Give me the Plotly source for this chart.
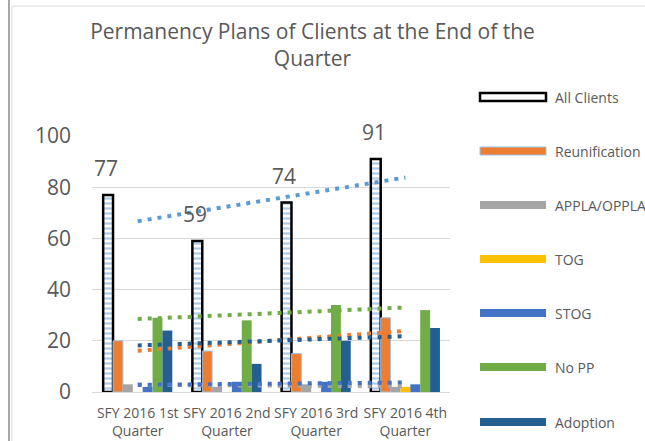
import numpy as np
import plotly.graph_objects as go

# ---------------- data ----------------
categories = ["SFY 2016 1st<br>Quarter", "SFY 2016 2nd<br>Quarter",
              "SFY 2016 3rd<br>Quarter", "SFY 2016 4th<br>Quarter"]
series_names = ["All Clients", "Reunification", "APPLA/OPPLA", "TOG", "STOG", "No PP", "Adoption"]
all_clients = [77, 59, 74, 91]
reunification = [20, 16, 15, 29]
appla_oppla = [3, 2, 3, 2]
tog = [0, 0, 0, 2]
stog = [2, 4, 4, 3]
no_pp = [29, 28, 34, 32]
adoption = [24, 11, 20, 25]
y_ticks = [0, 20, 40, 60, 80, 100]
title_text = "Permanency Plans of Clients at the End of the<br>Quarter"

values = [all_clients, reunification, appla_oppla, tog, stog, no_pp, adoption]
colors = ["#FFFFFF", "#ED7D31", "#A5A5A5", "#FFC000", "#4472C4", "#70AD47", "#255E91"]
trend_colors = {"All Clients": "#5B9BD5", "Reunification": "#ED7D31", "APPLA/OPPLA": "#A5A5A5",
                "STOG": "#4472C4", "No PP": "#70AD47", "Adoption": "#255E91"}

FONT = "Open Sans"
GREY = "#595959"
W, H = 645, 441
ML, MR, MT, MB = 92, 195, 136, 49
PW, PH = W - ML - MR, H - MT - MB
BARGAP = 0.225

def px2x(px):
    return (px - ML) / PW

def px2y(py):
    return (H - MB - py) / PH

fig = go.Figure()

for name, vals, col in zip(series_names, values, colors):
    if name == "All Clients":
        marker = dict(color="white", line=dict(color="black", width=2.5),
                      pattern=dict(shape="-", fgcolor="#5B9BD5", bgcolor="white",
                                   size=5, solidity=0.45))
    elif name == "Reunification":
        marker = dict(color=col, line=dict(color="#9DC3E6", width=1))
    else:
        marker = dict(color=col, line=dict(width=0))
    fig.add_trace(go.Bar(x=categories, y=vals, name=name, marker=marker, showlegend=False))

# linear trendlines (computed from the data)
xi = np.arange(1, len(categories) + 1)
for name, vals in zip(series_names, values):
    if name not in trend_colors:
        continue
    slope, intercept = np.polyfit(xi, np.array(vals, dtype=float), 1)
    fit = slope * xi + intercept
    fig.add_trace(go.Scatter(x=categories, y=fit, mode="lines", showlegend=False,
                             line=dict(color=trend_colors[name], width=4, dash="4px,6px"),
                             hoverinfo="skip"))

# data labels for All Clients
catw = PW / len(categories)
barw = catw * (1 - BARGAP) / len(series_names)
for c, v in zip(categories, all_clients):
    fig.add_annotation(x=c, y=v, text=str(v), showarrow=False, yanchor="bottom",
                       xshift=-3 * barw - 2, yshift=11,
                       font=dict(family=FONT, size=21, color=GREY))

# manual legend
leg_y = [97, 151, 205, 259, 313, 367, 422]
for name, col, ly in zip(series_names, colors, leg_y):
    if name == "All Clients":
        line = dict(color="black", width=2.5)
    elif name == "Reunification":
        line = dict(color="#9DC3E6", width=1)
    else:
        line = dict(width=0)
    fig.add_shape(type="rect", xref="paper", yref="paper",
                  x0=px2x(480), x1=px2x(546), y0=px2y(ly + 4), y1=px2y(ly - 4),
                  fillcolor=col, line=line)
    fig.add_annotation(xref="paper", yref="paper", x=px2x(553), y=px2y(ly), text=name,
                       showarrow=False, xanchor="left", yanchor="middle",
                       font=dict(family=FONT, size=14, color=GREY))

# chart border decorations
fig.add_shape(type="line", xref="paper", yref="paper", x0=px2x(9), x1=px2x(9),
              y0=px2y(0), y1=px2y(H), line=dict(color="#A6A6A6", width=2))
fig.add_shape(type="line", xref="paper", yref="paper", x0=px2x(12), x1=px2x(12),
              y0=px2y(6), y1=px2y(H), line=dict(color="#D9D9D9", width=1))
fig.add_shape(type="line", xref="paper", yref="paper", x0=px2x(12), x1=px2x(W),
              y0=px2y(6), y1=px2y(6), line=dict(color="#D9D9D9", width=1))

fig.update_layout(
    width=W, height=H,
    margin=dict(l=ML, r=MR, t=MT, b=MB, pad=0, autoexpand=False),
    paper_bgcolor="white", plot_bgcolor="white",
    barmode="group", bargap=BARGAP, bargroupgap=0,
    showlegend=False,
    title=dict(text=title_text, x=312.5 / W, xanchor="center", xref="container",
               y=1 - 39 / H, yanchor="top", yref="container",
               font=dict(family=FONT, size=21, color=GREY)),
    font=dict(family=FONT, color=GREY),
)
fig.update_xaxes(showline=True, linecolor="#D9D9D9", linewidth=1, showgrid=False,
                 ticks="", ticklabelstandoff=8, automargin=False,
                 tickfont=dict(family=FONT, size=14, color=GREY))
fig.update_yaxes(range=[0, 100], tickvals=y_ticks, showgrid=True, gridcolor="#D9D9D9",
                 gridwidth=1, zeroline=False, showline=False, ticks="", automargin=False,
                 ticklabelstandoff=20, tickfont=dict(family=FONT, size=21, color=GREY))

fig.write_html("out.html", config={"displayModeBar": False},
               post_script="document.body.style.margin='0';")
